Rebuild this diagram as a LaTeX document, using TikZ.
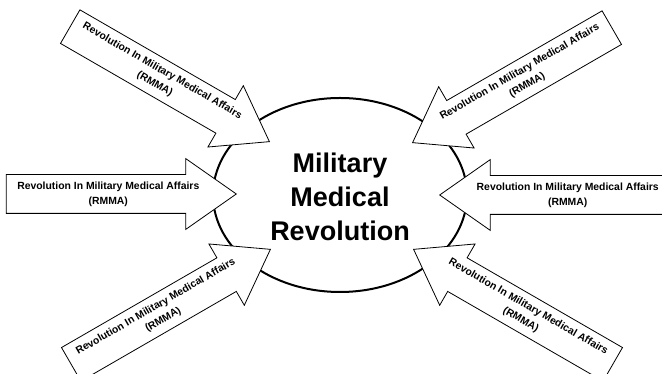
\documentclass[tikz,border=0pt]{standalone}
\usepackage{fontspec}
\setmainfont{Liberation Sans}
\usetikzlibrary{shapes.arrows,shapes.geometric,calc}

\begin{document}
\begin{tikzpicture}[x=1pt,y=1pt,
  rmma/.style={draw,fill=white,shape=single arrow,anchor=tip,minimum height=230pt,minimum width=70pt,
    inner sep=0pt,inner ysep=19pt,single arrow head extend=16pt,single arrow tip angle=70,line width=0.8pt},
  rmmatext/.style={align=center,inner sep=0pt,font=\bfseries\fontsize{10.4}{15}\selectfont}]
  \clip (0,0) rectangle (662,374);

  % centre
  \node[draw,ellipse,line width=2pt,minimum width=254pt,minimum height=194pt] (core) at (340,179) {};
  \node[align=center,font=\bfseries\fontsize{27}{34}\selectfont] (title) at (340,177) {Military\\Medical\\Revolution};

  % arrows, placed by their tips
  \node[rmma] (w) at (237,180) {};
  \node[rmma,rotate=180] (e) at (439,179) {};
  \node[rmma,rotate=-30] (nw) at (270,232) {};
  \node[rmma,rotate=210] (ne) at (412,231) {};
  \node[rmma,rotate=30] (sw) at (271,125) {};
  \node[rmma,rotate=150] (se) at (413,125) {};

  % labels
  \node[rmmatext] (wt) at ($(w.tip)!0.557!(w.tail)$) {Revolution In Military Medical Affairs\\(RMMA)};
  \node[rmmatext] (et) at ($(e.tip)!0.557!(e.tail)$) {Revolution In Military Medical Affairs\\(RMMA)};
  \node[rmmatext,rotate=-30] (nwt) at ($(nw.tip)!0.557!(nw.tail)$) {Revolution In Military Medical Affairs\\(RMMA)};
  \node[rmmatext,rotate=30] (net) at ($(ne.tip)!0.557!(ne.tail)$) {Revolution In Military Medical Affairs\\(RMMA)};
  \node[rmmatext,rotate=30] (swt) at ($(sw.tip)!0.557!(sw.tail)$) {Revolution In Military Medical Affairs\\(RMMA)};
  \node[rmmatext,rotate=-30] (set) at ($(se.tip)!0.557!(se.tail)$) {Revolution In Military Medical Affairs\\(RMMA)};
\end{tikzpicture}
\end{document}
